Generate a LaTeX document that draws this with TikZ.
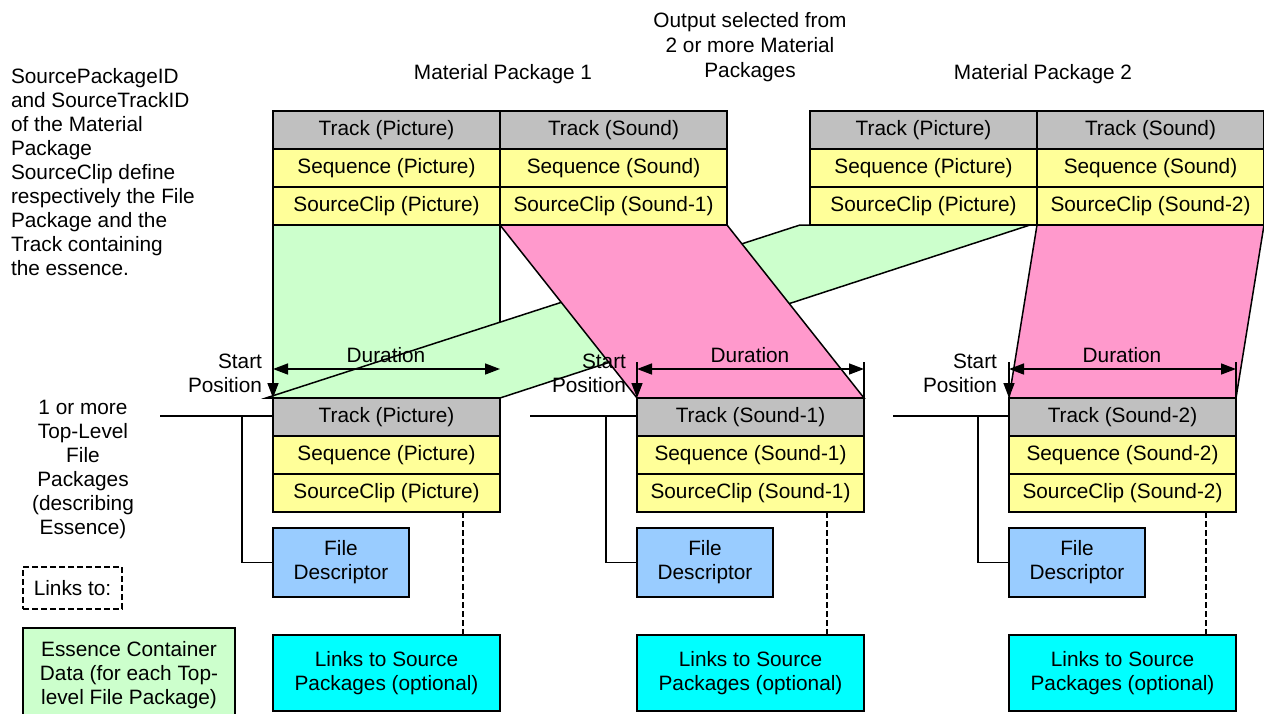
\documentclass[tikz,border=0pt]{standalone}
\usepackage{fontspec}
\setmainfont{Liberation Sans}
\usetikzlibrary{arrows.meta,positioning}

\definecolor{trkgray}{HTML}{C0C0C0}
\definecolor{seqyellow}{HTML}{FFFF99}
\definecolor{essgreen}{HTML}{CCFFCC}
\definecolor{sndpink}{HTML}{FF99CC}
\definecolor{fdblue}{HTML}{99CCFF}
\definecolor{lnkcyan}{HTML}{00FFFF}

\tikzset{
  pkgbox/.style={draw,line width=1.5pt,minimum width=227pt,minimum height=38pt,inner sep=0pt,outer sep=0pt},
  trkbox/.style={pkgbox,fill=trkgray},
  seqbox/.style={pkgbox,fill=seqyellow},
  fdbox/.style={draw,line width=1.5pt,fill=fdblue,minimum width=136pt,minimum height=69pt,inner sep=0pt,outer sep=0pt,align=center},
  lnkbox/.style={draw,line width=1.5pt,fill=lnkcyan,minimum width=227pt,minimum height=76pt,inner sep=0pt,outer sep=0pt,align=center},
  txt/.style={inner sep=0pt,outer sep=0pt},
  linkdash/.style={dash pattern=on 6pt off 3pt,line width=2pt},
  durarrow/.style={{Triangle[length=15pt,width=11pt]}-{Triangle[length=15pt,width=11pt]},line width=1.5pt},
  startarrow/.style={-{Triangle[length=15pt,width=11pt]},line width=1.5pt},
}

\begin{document}
\begin{tikzpicture}[x=1pt,y=-1pt,line width=1.5pt,font=\fontsize{20.8}{24}\selectfont]
\clip (0,0) rectangle (1264,713);

%Material Package 1
\node[trkbox] (mpAtrkP) at (386.5,130) {Track (Picture)};
\node[seqbox,below=0pt of mpAtrkP] (mpAseqP) {Sequence (Picture)};
\node[seqbox,below=0pt of mpAseqP] (mpAclipP) {SourceClip (Picture)};
\node[trkbox,right=0pt of mpAtrkP] (mpAtrkS) {Track (Sound)};
\node[seqbox,below=0pt of mpAtrkS] (mpAseqS) {Sequence (Sound)};
\node[seqbox,below=0pt of mpAseqS] (mpAclipS) {SourceClip (Sound-1)};

%Material Package 2
\node[trkbox] (mpBtrkP) at (923.5,130) {Track (Picture)};
\node[seqbox,below=0pt of mpBtrkP] (mpBseqP) {Sequence (Picture)};
\node[seqbox,below=0pt of mpBseqP] (mpBclipP) {SourceClip (Picture)};
\node[trkbox,right=0pt of mpBtrkP] (mpBtrkS) {Track (Sound)};
\node[seqbox,below=0pt of mpBtrkS] (mpBseqS) {Sequence (Sound)};
\node[seqbox,below=0pt of mpBseqS] (mpBclipS) {SourceClip (Sound-2)};

%Top-level File Packages
\node[trkbox] (fAtrk) at (386.5,417) {Track (Picture)};
\node[trkbox] (fBtrk) at (750.5,417) {Track (Sound-1)};
\node[trkbox] (fCtrk) at (1122.5,417) {Track (Sound-2)};

%Shape: green picture band
\fill[essgreen] (mpAclipP.south west) rectangle (fAtrk.north east);
\draw (mpAclipP.south west) -- (fAtrk.north west);
\draw (mpAclipP.south east) -- (fAtrk.north east);
\draw[fill=essgreen] ([xshift=-10pt]mpBclipP.south west) -- ([xshift=-7pt]mpBclipP.south east) -- (fAtrk.north east) -- ([xshift=-7pt]fAtrk.north west) -- cycle;
%Shape: pink sound bands
\draw[fill=sndpink] (mpAclipS.south west) -- (mpAclipS.south east) -- (fBtrk.north east) -- (fBtrk.north west) -- cycle;
\draw[fill=sndpink] (mpBclipS.south west) -- (mpBclipS.south east) -- (fCtrk.north east) -- (fCtrk.north west) -- cycle;

%redraw boxes over the bands
\node[trkbox] at (mpAtrkP) {Track (Picture)};
\node[seqbox] at (mpAclipP) {SourceClip (Picture)};
\node[seqbox] at (mpAclipS) {SourceClip (Sound-1)};
\node[seqbox] at (mpBclipP) {SourceClip (Picture)};
\node[seqbox] at (mpBclipS) {SourceClip (Sound-2)};
\node[trkbox] at (fAtrk) {Track (Picture)};
\node[trkbox] at (fBtrk) {Track (Sound-1)};
\node[trkbox] at (fCtrk) {Track (Sound-2)};

\node[seqbox,below=0pt of fAtrk] (fAseq) {Sequence (Picture)};
\node[seqbox,below=0pt of fAseq] (fAclip) {SourceClip (Picture)};
\node[seqbox,below=0pt of fBtrk] (fBseq) {Sequence (Sound-1)};
\node[seqbox,below=0pt of fBseq] (fBclip) {SourceClip (Sound-1)};
\node[seqbox,below=0pt of fCtrk] (fCseq) {Sequence (Sound-2)};
\node[seqbox,below=0pt of fCseq] (fCclip) {SourceClip (Sound-2)};

\node[fdbox,below=16pt of fAclip.south west,anchor=north west] (fAfd) {File\\Descriptor};
\node[fdbox,below=16pt of fBclip.south west,anchor=north west] (fBfd) {File\\Descriptor};
\node[fdbox,below=16pt of fCclip.south west,anchor=north west] (fCfd) {File\\Descriptor};

\node[lnkbox,below=38pt of fAfd.south west,anchor=north west] (fAlnk) {Links to Source\\Packages (optional)};
\node[lnkbox,below=38pt of fBfd.south west,anchor=north west] (fBlnk) {Links to Source\\Packages (optional)};
\node[lnkbox,below=38pt of fCfd.south west,anchor=north west] (fClnk) {Links to Source\\Packages (optional)};

%Straight Lines: Start Position / Duration
\draw[startarrow] ([yshift=44pt]fAtrk.north west) -- (fAtrk.north west);
\draw[durarrow] ([yshift=29pt]fAtrk.north west) -- ([yshift=29pt]fAtrk.north east);
\draw[startarrow] ([yshift=36pt]fBtrk.north west) -- (fBtrk.north west);
\draw ([yshift=36pt]fBtrk.north east) -- (fBtrk.north east);
\draw[durarrow] ([yshift=29pt]fBtrk.north west) -- ([yshift=29pt]fBtrk.north east);
\draw[startarrow] ([yshift=36pt]fCtrk.north west) -- (fCtrk.north west);
\draw ([yshift=36pt]fCtrk.north east) -- (fCtrk.north east);
\draw[durarrow] ([yshift=29pt]fCtrk.north west) -- ([yshift=29pt]fCtrk.north east);

%Straight Lines: package connectors
\coordinate (fAfree) at (160,416);
\coordinate (fBfree) at (530,416);
\coordinate (fCfree) at (893,416);
\draw (fAfree) -- (fAfree -| fAtrk.west);
\draw (fAfree -| 242,0) |- (fAfd.west);
\draw (fBfree) -- (fBfree -| fBtrk.west);
\draw (fBfree -| 606,0) |- (fBfd.west);
\draw (fCfree) -- (fCfree -| fCtrk.west);
\draw (fCfree -| 978,0) |- (fCfd.west);

%Dashed Lines: links
\draw[linkdash] ([xshift=76.5pt]fAclip.south) -- ([xshift=76.5pt]fAlnk.north);
\draw[linkdash] ([xshift=76.5pt]fBclip.south) -- ([xshift=76.5pt]fBlnk.north);
\draw[linkdash] ([xshift=83.5pt]fCclip.south) -- ([xshift=83.5pt]fClnk.north);

% Text Node
\node[txt] (durA) at (386,355) {Duration};
\node[txt] (durB) at (750,355) {Duration};
\node[txt] (durC) at (1122,355) {Duration};
\node[txt,anchor=east,align=right] (startA) at (262,373) {Start\\Position};
\node[txt,anchor=east,align=right] (startB) at (626,373) {Start\\Position};
\node[txt,anchor=east,align=right] (startC) at (997,373) {Start\\Position};
% Text Node
\node[txt] (mpAtitle) at (503,74) {Material Package 1};
\node[txt] (mpBtitle) at (1043,74) {Material Package 2};
\node[txt,align=center,font=\fontsize{20.8}{25}\selectfont] (output) at (750,47) {Output selected from\\2 or more Material\\Packages};
% Text Node
\node[txt,anchor=west,align=left] (note) at (11,172) {SourcePackageID\\and SourceTrackID\\of the Material\\Package\\SourceClip define\\respectively the File\\Package and the\\Track containing\\the essence.};
\node[txt,align=center] (toplevel) at (83,469) {1 or more\\Top-Level\\File\\Packages\\(describing\\Essence)};
% Legend
\node[draw,linkdash,line width=1.5pt,minimum width=99pt,minimum height=42pt,inner sep=0pt] (linkslegend) at (72.5,588) {Links to:};
\node[draw,fill=essgreen,line width=1.5pt,minimum width=212pt,minimum height=94pt,inner sep=0pt,align=center] (esslegend) at (129,675) {Essence Container\\Data (for each Top-\\level File Package)};

\end{tikzpicture}
\end{document}
